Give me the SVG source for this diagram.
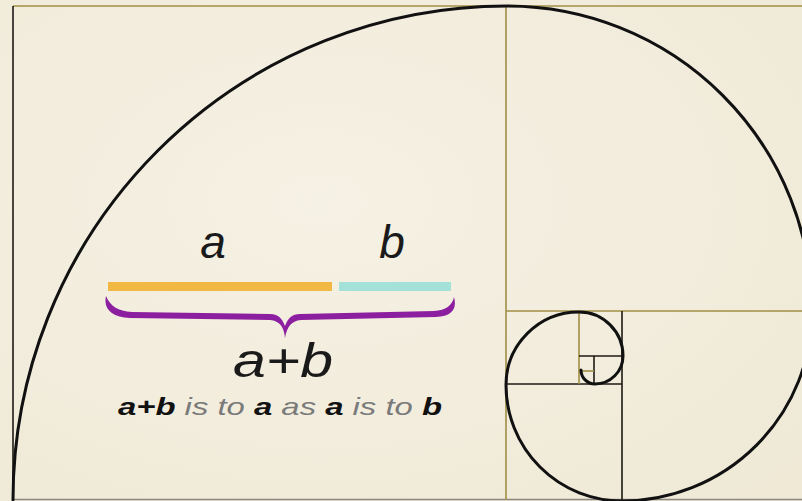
<svg xmlns="http://www.w3.org/2000/svg" width="802" height="501" viewBox="0 0 802 501">
<style>
.gl{stroke:#a08f45;stroke-width:1.6;fill:none}
.bl{stroke:#1c1a14;stroke-width:1.6;fill:none}
.sp{stroke:#111;stroke-width:3;fill:none;stroke-linecap:round}
.t{font-family:"Liberation Sans",Arial,sans-serif;font-style:italic;fill:#1a1a1a}
.g{fill:#7a7a7a;font-weight:normal}
.k{fill:#111;font-weight:bold}
</style>
<defs>
<radialGradient id="bg" cx="0.4" cy="0.4" r="0.8">
<stop offset="0" stop-color="#f5f1e4"/>
<stop offset="1" stop-color="#efe9d6"/>
</radialGradient>
</defs>
<rect width="802" height="501" fill="url(#bg)"/>
<g id="grid">
<line class="gl" x1="13" y1="6" x2="802" y2="6"/>
<line class="bl" x1="13" y1="6" x2="13" y2="500"/>
<line x1="13" y1="499.5" x2="802" y2="499.5" stroke="#8a8880" stroke-width="1.5"/>
<line class="gl" x1="506" y1="6" x2="506" y2="500"/>
<line class="gl" x1="506" y1="311" x2="802" y2="311"/>
<line class="bl" x1="622" y1="311" x2="622" y2="500"/>
<line class="bl" x1="506" y1="384" x2="622" y2="384"/>
<line class="gl" x1="579" y1="311" x2="579" y2="384"/>
<line class="bl" x1="579" y1="356" x2="622" y2="356"/>
<line class="bl" x1="594" y1="356" x2="594" y2="384"/>
<line class="gl" x1="579" y1="371" x2="594" y2="371"/>
</g>
<g id="spiral">
<path class="sp" d="M13,500 A494,494 0 0 1 507,6 A305,305 0 0 1 812,311 A190,190 0 0 1 622,501 A116,116 0 0 1 506,385 A73,73 0 0 1 579,312 A44,44 0 0 1 623,356 A28,28 0 0 1 595,384 A14,14 0 0 1 581,370"/>
</g>
<g id="bars">
<rect x="108" y="282" width="224" height="9" fill="#f1b944"/>
<rect x="339" y="282" width="112" height="9" fill="#a3e1d9"/>
</g>
<g id="brace">
<path fill="#8c1fa0" d="M106,296 C103,309 112,317 130,318 L270,320 C280,321 284,327 285,338 C287,327 291,321 301,320 L436,317 C453,316 457,308 454,297 C452,306 446,310 434,311 L300,314 C292,314 288,318 285,326 C282,318 278,314 270,314 L132,312 C118,311 110,306 106,296 Z"/>
</g>
<g id="labels">
<text class="t" x="213" y="258" font-size="46" text-anchor="middle">a</text>
<text class="t" x="392" y="258" font-size="46" text-anchor="middle">b</text>
<text class="t" x="233" y="377" font-size="48" textLength="100" lengthAdjust="spacingAndGlyphs">a+b</text>
<text class="t" x="118" y="415" font-size="24" textLength="324" lengthAdjust="spacingAndGlyphs"><tspan class="k">a+b</tspan><tspan class="g"> is to </tspan><tspan class="k">a</tspan><tspan class="g"> as </tspan><tspan class="k">a</tspan><tspan class="g"> is to </tspan><tspan class="k">b</tspan></text>
</g>
</svg>
